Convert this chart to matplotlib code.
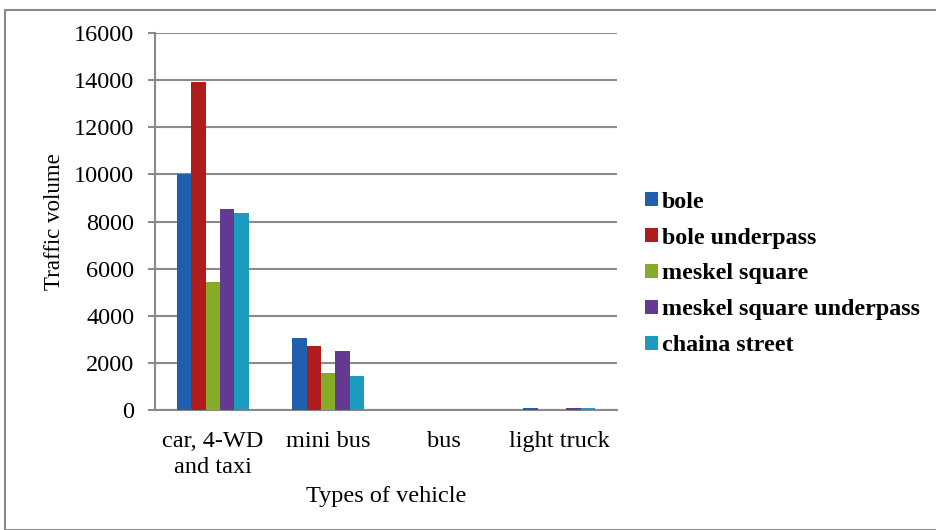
import numpy as np
import matplotlib.pyplot as plt
from matplotlib.patches import Rectangle

plt.rcParams['font.family'] = ['Liberation Serif', 'DejaVu Serif']

vehicles = ['car, 4-WD\nand taxi', 'mini bus', 'bus', 'light truck']
locations = ['bole', 'bole underpass', 'meskel square',
             'meskel square underpass', 'chaina street']
colors = ['#1f5fae', '#b01c1c', '#86ab26', '#633a92', '#1b9bbd']

bole = [10000, 3050, 0, 80]
bole_underpass = [13900, 2700, 0, 0]
meskel_square = [5450, 1580, 0, 0]
meskel_underpass = [8550, 2500, 0, 80]
chaina_street = [8350, 1450, 0, 80]
series = [bole, bole_underpass, meskel_square, meskel_underpass, chaina_street]

fig = plt.figure(figsize=(9.37, 5.30), dpi=100)
ax = fig.add_axes([155 / 937, 120 / 530, 462 / 937, 377 / 530])

x = np.arange(len(vehicles))
w = 0.125
for i, (vals, name, c) in enumerate(zip(series, locations, colors)):
    ax.bar(x + (i - 2) * w, vals, w, color=c, label=name, zorder=3)

ax.set_xlim(-0.5, 3.5)
ax.set_ylim(0, 16000)
ax.set_yticks(range(0, 16001, 2000))
ax.grid(axis='y', color='#8a8a8a', linewidth=1.5, zorder=0)
ax.set_xticks(x)
ax.set_xticklabels(vehicles, fontsize=17.5, linespacing=1.3)
ax.tick_params(axis='x', length=0, pad=15)
ax.tick_params(axis='y', labelsize=17.5, length=5, width=1.5, color='#8a8a8a', pad=10)
for s in ['top', 'right']:
    ax.spines[s].set_visible(False)
ax.spines['left'].set_color('#8a8a8a')
ax.spines['left'].set_linewidth(1.5)
ax.spines['bottom'].set_color('#8a8a8a')
ax.spines['bottom'].set_linewidth(1.5)

ax.set_ylabel('Traffic volume', fontsize=16.5, labelpad=6)
ax.set_xlabel('Types of vehicle', fontsize=17.5, labelpad=6)

ax.legend(loc='center left', bbox_to_anchor=((645 - 155) / 462, (410 - 274) / 377),
          frameon=False, borderaxespad=0, borderpad=0,
          prop={'size': 17.3, 'weight': 'bold'},
          handlelength=0.55, handleheight=0.55, handletextpad=0.15,
          labelspacing=0.62)

fig.patches.append(Rectangle((5 / 937, 0), 1.0, 1 - 10 / 530, transform=fig.transFigure,
                             fill=False, edgecolor='#8a8a8a', linewidth=1.5))

fig.savefig('out.png', dpi=100)
